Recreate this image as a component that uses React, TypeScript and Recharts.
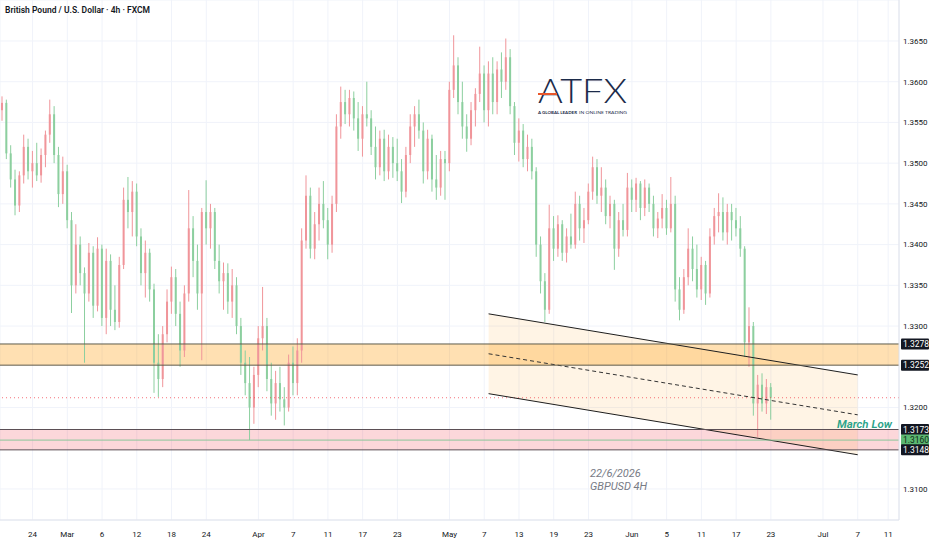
import {
  ComposedChart, Bar, Line, Area, XAxis, YAxis, CartesianGrid, ReferenceArea, ReferenceLine,
} from 'recharts';

// GBPUSD, 12h candles [open, high, low, close], two per trading day
const febBars = [
  [1.3565, 1.3582, 1.3552, 1.3574], [1.3574, 1.3578, 1.3505, 1.3512],
  [1.3512, 1.3522, 1.3470, 1.3480], [1.3480, 1.3492, 1.3436, 1.3448],
  [1.3448, 1.3490, 1.3440, 1.3485], [1.3485, 1.3535, 1.3475, 1.3520],
  [1.3520, 1.3530, 1.3480, 1.3490], [1.3490, 1.3515, 1.3470, 1.3500],
  [1.3500, 1.3525, 1.3478, 1.3485], [1.3485, 1.3518, 1.3476, 1.3510],
  [1.3510, 1.3540, 1.3495, 1.3535], [1.3535, 1.3578, 1.3525, 1.3560],
  [1.3560, 1.3570, 1.3500, 1.3510], [1.3510, 1.3520, 1.3446, 1.3462],
  [1.3462, 1.3508, 1.3450, 1.3490], [1.3490, 1.3498, 1.3420, 1.3430],
  [1.3430, 1.3440, 1.3316, 1.3350], [1.3350, 1.3425, 1.3340, 1.3400],
];
const marBars = [
  [1.3400, 1.3410, 1.3350, 1.3365], [1.3365, 1.3372, 1.3255, 1.3340],
  [1.3340, 1.3402, 1.3330, 1.3390], [1.3390, 1.3398, 1.3310, 1.3325],
  [1.3325, 1.3409, 1.3318, 1.3395], [1.3395, 1.3400, 1.3300, 1.3310],
  [1.3310, 1.3395, 1.3290, 1.3380], [1.3380, 1.3388, 1.3300, 1.3320],
  [1.3320, 1.3350, 1.3295, 1.3305], [1.3305, 1.3385, 1.3298, 1.3375],
  [1.3375, 1.3470, 1.3370, 1.3455], [1.3455, 1.3483, 1.3420, 1.3440],
  [1.3440, 1.3478, 1.3410, 1.3465], [1.3465, 1.3475, 1.3398, 1.3410],
  [1.3410, 1.3420, 1.3350, 1.3365], [1.3365, 1.3405, 1.3335, 1.3390],
  [1.3390, 1.3395, 1.3330, 1.3345], [1.3345, 1.3352, 1.3218, 1.3255],
  [1.3255, 1.3290, 1.3213, 1.3235], [1.3235, 1.3300, 1.3225, 1.3290],
  [1.3290, 1.3345, 1.3280, 1.3330], [1.3330, 1.3373, 1.3315, 1.3360],
  [1.3360, 1.3370, 1.3300, 1.3315], [1.3315, 1.3330, 1.3250, 1.3270],
  [1.3270, 1.3350, 1.3262, 1.3340], [1.3340, 1.3467, 1.3330, 1.3420],
  [1.3420, 1.3435, 1.3360, 1.3380], [1.3380, 1.3400, 1.3320, 1.3340],
  [1.3340, 1.3445, 1.3258, 1.3440], [1.3440, 1.3479, 1.3400, 1.3420],
  [1.3420, 1.3450, 1.3395, 1.3440], [1.3440, 1.3445, 1.3370, 1.3380],
  [1.3380, 1.3400, 1.3340, 1.3355], [1.3355, 1.3378, 1.3320, 1.3365],
  [1.3365, 1.3377, 1.3315, 1.3330], [1.3330, 1.3370, 1.3310, 1.3350],
  [1.3350, 1.3360, 1.3290, 1.3300], [1.3300, 1.3310, 1.3240, 1.3255],
  [1.3255, 1.3270, 1.3215, 1.3230], [1.3230, 1.3262, 1.3160, 1.3200],
  [1.3200, 1.3250, 1.3180, 1.3240], [1.3240, 1.3300, 1.3225, 1.3285],
];
const aprBars = [
  [1.3285, 1.3348, 1.3270, 1.3300], [1.3300, 1.3310, 1.3220, 1.3235],
  [1.3235, 1.3255, 1.3190, 1.3205], [1.3205, 1.3245, 1.3185, 1.3230],
  [1.3230, 1.3250, 1.3195, 1.3210], [1.3210, 1.3225, 1.3178, 1.3200],
  [1.3200, 1.3265, 1.3195, 1.3255], [1.3255, 1.3275, 1.3215, 1.3230],
  [1.3230, 1.3285, 1.3215, 1.3270], [1.3270, 1.3420, 1.3255, 1.3405],
  [1.3405, 1.3485, 1.3395, 1.3460], [1.3460, 1.3470, 1.3383, 1.3395],
  [1.3395, 1.3440, 1.3382, 1.3425], [1.3425, 1.3470, 1.3405, 1.3450],
  [1.3450, 1.3478, 1.3420, 1.3430], [1.3430, 1.3445, 1.3382, 1.3400],
  [1.3400, 1.3460, 1.3390, 1.3450], [1.3450, 1.3560, 1.3440, 1.3545],
  [1.3545, 1.3594, 1.3530, 1.3575], [1.3575, 1.3590, 1.3548, 1.3560],
  [1.3560, 1.3590, 1.3545, 1.3580], [1.3580, 1.3588, 1.3540, 1.3555],
  [1.3555, 1.3575, 1.3515, 1.3530], [1.3530, 1.3570, 1.3508, 1.3560],
  [1.3560, 1.3600, 1.3545, 1.3555], [1.3555, 1.3565, 1.3510, 1.3520],
  [1.3520, 1.3545, 1.3480, 1.3495], [1.3495, 1.3540, 1.3485, 1.3530],
  [1.3530, 1.3541, 1.3478, 1.3490], [1.3490, 1.3535, 1.3480, 1.3520],
  [1.3520, 1.3532, 1.3482, 1.3500], [1.3500, 1.3530, 1.3478, 1.3490],
  [1.3490, 1.3505, 1.3451, 1.3465], [1.3465, 1.3520, 1.3458, 1.3510],
  [1.3510, 1.3560, 1.3500, 1.3545], [1.3545, 1.3570, 1.3520, 1.3560],
  [1.3560, 1.3578, 1.3530, 1.3540], [1.3540, 1.3550, 1.3475, 1.3490],
  [1.3490, 1.3541, 1.3480, 1.3530], [1.3530, 1.3535, 1.3465, 1.3480],
  [1.3480, 1.3510, 1.3455, 1.3470], [1.3470, 1.3515, 1.3460, 1.3505],
  [1.3505, 1.3515, 1.3455, 1.3500], [1.3500, 1.3600, 1.3490, 1.3590],
];
const mayBars = [
  [1.3590, 1.3657, 1.3580, 1.3620], [1.3620, 1.3630, 1.3560, 1.3575],
  [1.3575, 1.3600, 1.3530, 1.3545], [1.3545, 1.3560, 1.3514, 1.3530],
  [1.3530, 1.3575, 1.3522, 1.3565], [1.3565, 1.3592, 1.3545, 1.3585],
  [1.3585, 1.3643, 1.3575, 1.3610], [1.3610, 1.3620, 1.3550, 1.3565],
  [1.3565, 1.3625, 1.3545, 1.3610], [1.3610, 1.3630, 1.3560, 1.3575],
  [1.3575, 1.3625, 1.3560, 1.3615], [1.3615, 1.3636, 1.3580, 1.3600],
  [1.3600, 1.3653, 1.3590, 1.3630], [1.3630, 1.3640, 1.3560, 1.3570],
  [1.3570, 1.3575, 1.3510, 1.3525], [1.3525, 1.3555, 1.3502, 1.3540],
  [1.3540, 1.3548, 1.3495, 1.3505], [1.3505, 1.3535, 1.3490, 1.3520],
  [1.3520, 1.3530, 1.3480, 1.3490], [1.3490, 1.3495, 1.3385, 1.3400],
  [1.3400, 1.3410, 1.3340, 1.3355], [1.3355, 1.3365, 1.3305, 1.3320],
  [1.3320, 1.3449, 1.3315, 1.3420], [1.3420, 1.3435, 1.3380, 1.3395],
  [1.3395, 1.3436, 1.3385, 1.3425], [1.3425, 1.3430, 1.3380, 1.3390],
  [1.3390, 1.3420, 1.3378, 1.3410], [1.3410, 1.3438, 1.3395, 1.3400],
  [1.3400, 1.3465, 1.3395, 1.3450], [1.3450, 1.3460, 1.3405, 1.3420],
  [1.3420, 1.3445, 1.3402, 1.3430], [1.3430, 1.3475, 1.3425, 1.3465],
  [1.3465, 1.3508, 1.3455, 1.3495], [1.3495, 1.3505, 1.3450, 1.3460],
  [1.3460, 1.3495, 1.3440, 1.3470], [1.3470, 1.3480, 1.3425, 1.3435],
  [1.3435, 1.3460, 1.3420, 1.3450], [1.3450, 1.3455, 1.3369, 1.3395],
  [1.3395, 1.3440, 1.3385, 1.3430], [1.3430, 1.3450, 1.3410, 1.3418],
  [1.3418, 1.3488, 1.3410, 1.3470], [1.3470, 1.3480, 1.3440, 1.3455],
  [1.3455, 1.3482, 1.3440, 1.3475], [1.3475, 1.3478, 1.3430, 1.3445],
];
const junBars = [
  [1.3445, 1.3480, 1.3435, 1.3470], [1.3470, 1.3475, 1.3440, 1.3450],
  [1.3450, 1.3460, 1.3410, 1.3420], [1.3420, 1.3440, 1.3408, 1.3432],
  [1.3432, 1.3462, 1.3420, 1.3445], [1.3445, 1.3455, 1.3412, 1.3420],
  [1.3420, 1.3483, 1.3415, 1.3450], [1.3450, 1.3460, 1.3330, 1.3345],
  [1.3345, 1.3360, 1.3307, 1.3320], [1.3320, 1.3370, 1.3315, 1.3360],
  [1.3360, 1.3420, 1.3350, 1.3395], [1.3395, 1.3410, 1.3355, 1.3370],
  [1.3370, 1.3400, 1.3335, 1.3345], [1.3345, 1.3385, 1.3332, 1.3375],
  [1.3375, 1.3380, 1.3326, 1.3340], [1.3340, 1.3420, 1.3335, 1.3410],
  [1.3410, 1.3445, 1.3400, 1.3435], [1.3435, 1.3463, 1.3415, 1.3440],
  [1.3440, 1.3458, 1.3405, 1.3415], [1.3415, 1.3450, 1.3400, 1.3440],
  [1.3440, 1.3450, 1.3405, 1.3430], [1.3430, 1.3445, 1.3410, 1.3420],
  [1.3420, 1.3435, 1.3385, 1.3395], [1.3395, 1.3398, 1.3262, 1.3280],
  [1.3280, 1.3323, 1.3250, 1.3300], [1.3300, 1.3305, 1.3190, 1.3205],
  [1.3205, 1.3240, 1.3164, 1.3228], [1.3228, 1.3242, 1.3195, 1.3205],
  [1.3205, 1.3235, 1.3192, 1.3225], [1.3225, 1.3230, 1.3185, 1.3212],
];

// time axis: slot index (12h) -> label
const tickSlots = [7, 15, 23, 31, 39, 47, 59, 67, 75, 83, 91, 103, 111, 119, 127, 135, 145, 153, 161, 169, 177, 189, 197, 204];
const tickLabels = ['24', 'Mar', '6', '12', '18', '24', 'Apr', '7', '11', '17', '23', 'May', '7', '13', '19', '23', 'Jun', '5', '11', '17', '23', 'Jul', '7', '11'];
const SLOT_COUNT = 207;

const priceTicks = [1.31, 1.32, 1.33, 1.335, 1.34, 1.345, 1.35, 1.355, 1.36, 1.365];

// descending channel anchors
const channelSlots = [112, 197];
const channelUpper = [1.3315, 1.3240];
const channelMid = [1.3266, 1.3191];
const channelLower = [1.3217, 1.3142];

const resistanceZone = [1.3252, 1.3278];
const supportZone = [1.3148, 1.3173];
const marchLow = 1.3160;
const lastPrice = 1.3212;

const UP = '#f0959a';
const DOWN = '#8ccf9f';

const bars = [...febBars, ...marBars, ...aprBars, ...mayBars, ...junBars];

const data = Array.from({ length: SLOT_COUNT }, (_, i) => {
  const row: any = { slot: i };
  const b = bars[i];
  if (b) {
    row.o = b[0]; row.h = b[1]; row.l = b[2]; row.c = b[3];
    row.range = [b[2], b[1]];
  }
  const ci = channelSlots.indexOf(i);
  if (ci >= 0) {
    row.up = channelUpper[ci];
    row.mid = channelMid[ci];
    row.lo = channelLower[ci];
    row.fill = [channelLower[ci], channelUpper[ci]];
  }
  return row;
});

function Candle(props: any) {
  const { x, y, width, height, payload } = props;
  if (!payload || payload.o == null) return null;
  const { o, h, l, c } = payload;
  const top = Math.min(y, y + height);
  const hh = Math.abs(height);
  const color = c >= o ? UP : DOWN;
  const k = h > l ? hh / (h - l) : 0;
  const bodyTop = top + (h - Math.max(o, c)) * k;
  const bodyH = Math.max(1, Math.abs(c - o) * k);
  const cx = x + width / 2;
  return (
    <g>
      <line x1={cx} x2={cx} y1={top} y2={top + hh} stroke={color} strokeWidth={1} />
      <rect x={x} y={bodyTop} width={width} height={bodyH} fill={color} />
    </g>
  );
}

function PriceTag(props: any) {
  const { viewBox, text, bg, color } = props;
  if (!viewBox) return null;
  const x = viewBox.x + viewBox.width + 2;
  const y = viewBox.y;
  return (
    <g>
      <rect x={x} y={y - 5.5} width={28} height={11} rx={1} fill={bg} />
      <text x={x + 2} y={y + 3} fontSize={8.5} fill={color || '#fff'} fontFamily="Roboto, sans-serif">{text}</text>
    </g>
  );
}

function NoteLabel(props: any) {
  const { viewBox, text } = props;
  if (!viewBox) return null;
  return (
    <text
      x={viewBox.x + viewBox.width - 7} y={viewBox.y - 2} textAnchor="end"
      fontSize={11.5} fontStyle="italic" fontWeight={600} fill="#2aa38a" fontFamily="Roboto, sans-serif"
    >
      {text}
    </text>
  );
}

export default function App() {
  return (
    <div style={{ position: 'absolute', left: 0, top: 0, width: 932, height: 550, background: '#fff', fontFamily: 'Roboto, sans-serif' }}>
      <ComposedChart width={932} height={550} data={data} margin={{ top: 0, right: 0, left: 0, bottom: 0 }} barCategoryGap={0}>
        <CartesianGrid stroke="#f0f3fa" />
        <XAxis
          dataKey="slot" type="category" ticks={tickSlots} interval={0} height={30}
          tickFormatter={(v) => tickLabels[tickSlots.indexOf(v)] ?? ''}
          tick={{ fontSize: 8, fill: '#131722' }} tickLine={false} tickSize={0} tickMargin={11}
          axisLine={{ stroke: '#e0e3eb' }}
        />
        <YAxis
          orientation="right" width={33} domain={[1.30619, 1.37003]} ticks={priceTicks} type="number"
          allowDataOverflow tickFormatter={(v) => v.toFixed(4)}
          tick={{ fontSize: 8, fill: '#131722' }} tickLine={false} tickSize={0} tickMargin={4}
          axisLine={{ stroke: '#e0e3eb' }}
        />
        <ReferenceArea y1={resistanceZone[0]} y2={resistanceZone[1]} fill="#ff9800" fillOpacity={0.3} stroke="none" />
        <ReferenceArea y1={supportZone[0]} y2={supportZone[1]} fill="#f23645" fillOpacity={0.2} stroke="none" />
        <Area
          dataKey="fill" connectNulls fill="#ff9800" fillOpacity={0.1} stroke="none"
          isAnimationActive={false} activeDot={false} dot={false}
        />
        <ReferenceLine y={lastPrice} stroke="#f23645" strokeOpacity={0.7} strokeDasharray="1 3" />
        <Bar dataKey="range" barSize={2} shape={<Candle />} isAnimationActive={false} />
        <Line dataKey="up" connectNulls stroke="#1e1e1e" strokeWidth={1} dot={false} activeDot={false} isAnimationActive={false} />
        <Line dataKey="mid" connectNulls stroke="#333" strokeWidth={1} strokeDasharray="4 3" dot={false} activeDot={false} isAnimationActive={false} />
        <Line dataKey="lo" connectNulls stroke="#1e1e1e" strokeWidth={1} dot={false} activeDot={false} isAnimationActive={false} />
        <ReferenceLine y={resistanceZone[1]} stroke="#5e5b4c" label={<PriceTag text={resistanceZone[1].toFixed(4)} bg="#131722" />} />
        <ReferenceLine y={resistanceZone[0]} stroke="#5e5b4c" label={<PriceTag text={resistanceZone[0].toFixed(4)} bg="#131722" />} />
        <ReferenceLine y={supportZone[1]} stroke="#5b4f55" label={<PriceTag text={supportZone[1].toFixed(4)} bg="#131722" />} />
        <ReferenceLine y={supportZone[1]} stroke="none" label={<NoteLabel text="March Low" />} />
        <ReferenceLine y={marchLow} stroke="#8cc79a" label={<PriceTag text={marchLow.toFixed(4)} bg="#5cb872" color="#0d2a14" />} />
        <ReferenceLine y={supportZone[0]} stroke="#5b4f55" label={<PriceTag text={supportZone[0].toFixed(4)} bg="#131722" />} />
      </ComposedChart>

      <div style={{ position: 'absolute', left: 5, top: 5, fontSize: 8.5, fontWeight: 600, color: '#131722', whiteSpace: 'nowrap' }}>
        British Pound / U.S. Dollar · 4h · FXCM
      </div>

      <svg style={{ position: 'absolute', left: 530, top: 60 }} width={110} height={64}>
        <text x={8} y={43} fontSize={33} fontWeight={300} fill="#1c2b4a" fontFamily="Lato, sans-serif" textLength={89} lengthAdjust="spacingAndGlyphs">ATFX</text>
        <rect x={8} y={33} width={19} height={2} fill="#e8562a" />
        <text x={8} y={54} fontSize={4.4} fontWeight={700} fill="#1c2b4a" fontFamily="Lato, sans-serif" textLength={39} lengthAdjust="spacingAndGlyphs">A GLOBAL LEADER</text>
        <text x={49} y={54} fontSize={4.4} fill="#1c2b4a" fontFamily="Lato, sans-serif" textLength={48} lengthAdjust="spacingAndGlyphs">IN ONLINE TRADING</text>
      </svg>

      <div style={{ position: 'absolute', left: 590, top: 467, fontSize: 11, fontStyle: 'italic', color: '#787b86', lineHeight: '13px' }}>
        <div>22/6/2026</div>
        <div>GBPUSD 4H</div>
      </div>
    </div>
  );
}
